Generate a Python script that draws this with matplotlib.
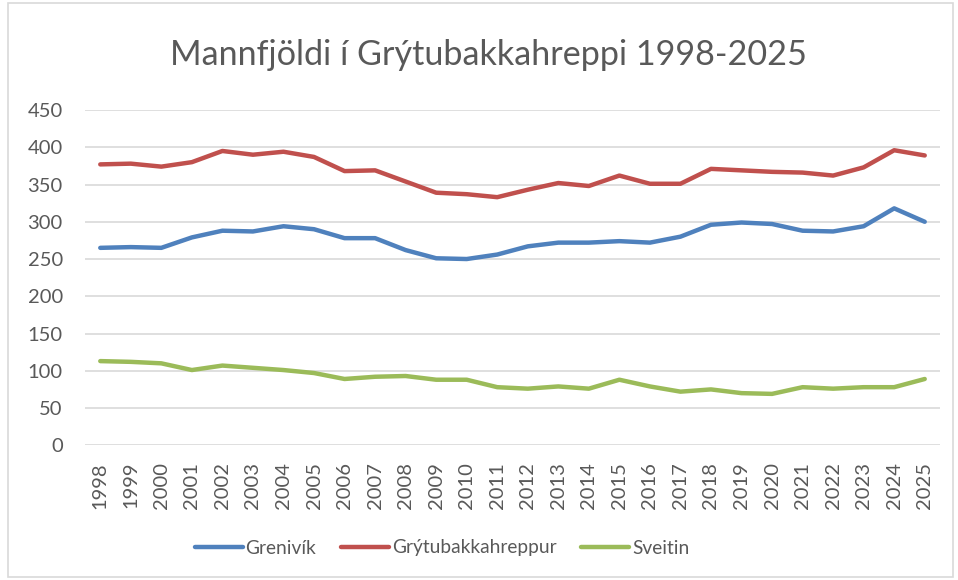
import matplotlib.pyplot as plt
from matplotlib.patches import Rectangle

# Gögn lesin af myndinni
years = list(range(1998, 2026))
grenivik = [265, 266, 265, 279, 288, 287, 294, 290, 278, 278, 262, 251, 250, 256,
            267, 272, 272, 274, 272, 280, 296, 299, 297, 288, 287, 294, 318, 300]
hreppur = [377, 378, 374, 380, 395, 390, 394, 387, 368, 369, 354, 339, 337, 333,
           343, 352, 348, 362, 351, 351, 371, 369, 367, 366, 362, 373, 396, 389]
sveitin = [113, 112, 110, 101, 107, 104, 101, 97, 89, 92, 93, 88, 88, 78,
           76, 79, 76, 88, 79, 72, 75, 70, 69, 78, 76, 78, 78, 89]
series_names = ['Grenivík', 'Grýtubakkahreppur', 'Sveitin']
colors = ['#4F81BD', '#C0504D', '#9BBB59']

plt.rcParams['font.family'] = ['Lato', 'DejaVu Sans']
text_color = '#595959'

fig = plt.figure(figsize=(9.58, 5.8), dpi=100)
ax = fig.add_axes([85 / 958, 1 - 445.3 / 580, 855 / 958, 335.3 / 580])

for vals, name, c in zip([grenivik, hreppur, sveitin], series_names, colors):
    ax.plot(years, vals, color=c, lw=3.2, label=name, solid_capstyle='round')

ax.set_xlim(1997.5, 2025.5)
ax.set_ylim(0, 450)
ax.set_yticks(range(0, 451, 50))
ax.set_xticks(years)
ax.set_xticklabels([str(y) for y in years], rotation=90)
ax.grid(axis='y', color='#D9D9D9', lw=1.2)
ax.set_axisbelow(True)
for s in ax.spines.values():
    s.set_visible(False)
ax.tick_params(axis='y', length=0, pad=16, labelsize=14.5, labelcolor=text_color)
ax.tick_params(axis='x', length=0, pad=12, labelsize=14.5, labelcolor=text_color)

fig.text(488 / 958, 1 - 55 / 580, 'Mannfjöldi í Grýtubakkahreppi 1998-2025',
         ha='center', va='center', fontsize=24.6, color=text_color)

leg = fig.legend(loc='center', bbox_to_anchor=(442 / 958, 1 - 548 / 580), ncol=3,
                 frameon=False, fontsize=13.8, handlelength=2.5, handletextpad=0.15,
                 columnspacing=1.3)
for t in leg.get_texts():
    t.set_color(text_color)

fig.patches.append(Rectangle((8 / 958, 3 / 580), 945 / 958, 574 / 580,
                             transform=fig.transFigure, fill=False,
                             edgecolor='#D9D9D9', lw=1.2))

fig.savefig('out.png', dpi=100)
